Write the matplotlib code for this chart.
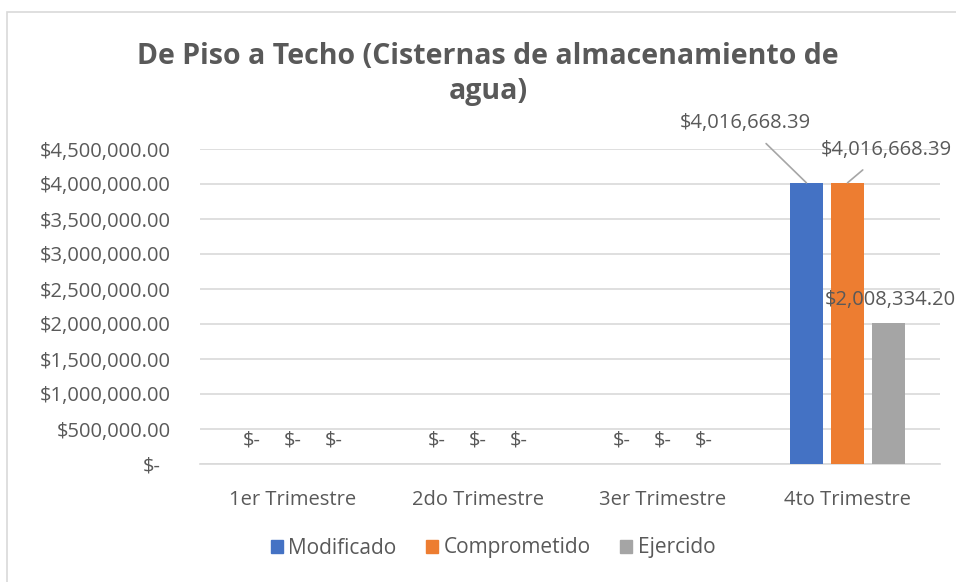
import matplotlib
matplotlib.use("Agg")
import matplotlib.pyplot as plt
from matplotlib.patches import Rectangle, Patch
from matplotlib.ticker import FuncFormatter
from matplotlib.transforms import ScaledTranslation
import numpy as np

categories = ["1er Trimestre", "2do Trimestre", "3er Trimestre", "4to Trimestre"]
series_names = ["Modificado", "Comprometido", "Ejercido"]
modificado = [0, 0, 0, 4016668.39]
comprometido = [0, 0, 0, 4016668.39]
ejercido = [0, 0, 0, 2008334.20]
colors = ["#4472C4", "#ED7D31", "#A5A5A5"]
yticks = [0, 500000, 1000000, 1500000, 2000000, 2500000, 3000000, 3500000, 4000000, 4500000]

FONT = ["Open Sans", "DejaVu Sans"]
plt.rcParams['font.family'] = FONT
TXT = "#595959"
FS = 14.5

W, H = 956, 582
fig = plt.figure(figsize=(W / 100, H / 100), dpi=100)
fig.patches.append(Rectangle((7 / W, -0.01), 1.0, 1 + 0.01 - 12 / H, transform=fig.transFigure,
                             fill=False, edgecolor="#D9D9D9", linewidth=1.2))

ax = fig.add_axes([200 / W, 118 / H, 740 / W, 315 / H])
x = np.arange(len(categories))
off = 0.222
width = 0.175
all_series = [modificado, comprometido, ejercido]
for i, (vals, c) in enumerate(zip(all_series, colors)):
    ax.bar(x + (i - 1) * off, vals, width=width, color=c, zorder=3, label=series_names[i])

ax.set_xlim(-0.5, 3.5)
ax.set_ylim(0, 4500000)
ax.set_yticks(yticks)
ax.yaxis.set_major_formatter(FuncFormatter(lambda v, p: "$-" if v == 0 else f"${v:,.2f}"))
ax.set_xticks(x)
ax.set_xticklabels(categories)
ax.tick_params(axis="both", length=0, labelsize=FS, colors=TXT)
ax.tick_params(axis="x", pad=19)
ax.tick_params(axis="y", pad=21)
for s in ["top", "right", "left"]:
    ax.spines[s].set_visible(False)
ax.spines["bottom"].set_color("#D9D9D9")
ax.spines["bottom"].set_linewidth(1.2)
ax.grid(axis="y", color="#D9D9D9", linewidth=1.2, zorder=0)
ax.set_axisbelow(True)

# shift the zero tick label slightly left (accounting format padding)
zl = ax.yaxis.get_major_ticks()[0].label1
zl.set_transform(zl.get_transform() + ScaledTranslation(-10 / 100, 0, fig.dpi_scale_trans))

# zero labels
for i, vals in enumerate(all_series):
    for j, v in enumerate(vals):
        if v == 0:
            ax.annotate("$-", (x[j] + (i - 1) * off, v), xytext=(0, 17), textcoords="offset points",
                        ha="center", va="center", fontsize=FS, color=TXT)

# labels for 4th quarter
j = 3
ax.annotate(f"${modificado[j]:,.2f}", (x[j] - off, modificado[j]), xytext=(2.446, 4871000),
            ha="center", va="center", fontsize=FS, color=TXT, annotation_clip=False,
            arrowprops=dict(arrowstyle="-", color="#A6A6A6", lw=1.2, shrinkA=8, shrinkB=0))
ax.annotate(f"${comprometido[j]:,.2f}", (x[j], comprometido[j]), xytext=(3.21, 4486000),
            ha="center", va="center", fontsize=FS, color=TXT, annotation_clip=False,
            arrowprops=dict(arrowstyle="-", color="#A6A6A6", lw=1.2, shrinkA=8, shrinkB=0))
ax.annotate(f"${ejercido[j]:,.2f}", (x[j] + off, ejercido[j]), xytext=(3.23, 2343000),
            ha="center", va="center", fontsize=FS, color=TXT, annotation_clip=False)

fig.text(488 / W, 1 - 74 / H, "De Piso a Techo (Cisternas de almacenamiento de\nagua)",
         ha="center", va="center", fontsize=20.5, fontweight="bold", color=TXT, linespacing=1.3)

handles = [Patch(color=c) for c in colors]
fig.legend(handles, series_names, loc="center", bbox_to_anchor=(493 / W, 1 - 548 / H), ncol=3,
           frameon=False, fontsize=15, labelcolor=TXT, handlelength=0.6, handleheight=0.6,
           handletextpad=0.25, columnspacing=1.4)

fig.savefig("out.png", dpi=100)
